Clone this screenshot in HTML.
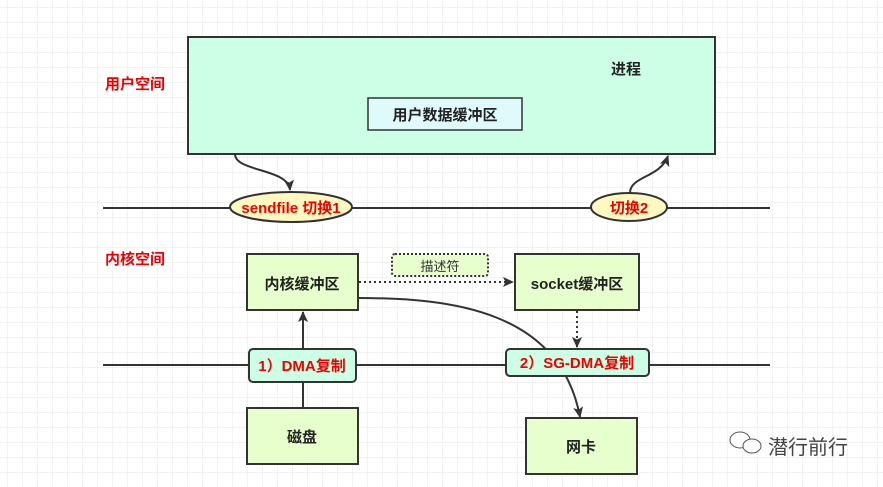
<!DOCTYPE html>
<html><head><meta charset="utf-8"><style>
html,body{margin:0;padding:0;background:#fff}
svg{display:block}
text{font-family:"Liberation Sans","Noto Sans CJK SC",sans-serif;font-weight:bold}
</style></head><body>
<svg width="883" height="487" viewBox="0 0 883 487" xmlns="http://www.w3.org/2000/svg">
<defs>
<pattern id="g" width="15" height="15" patternUnits="userSpaceOnUse" x="7" y="7">
<path d="M15 0H0V15" fill="none" stroke="#e6e6e6" stroke-width="1"/>
</pattern>
<marker id="a" markerWidth="12" markerHeight="12" refX="10" refY="6" orient="auto" markerUnits="userSpaceOnUse">
<path d="M0 1L11 6L0 11L2.5 6Z" fill="#333"/>
</marker>
</defs>
<rect width="883" height="487" fill="url(#g)"/>
<rect x="188" y="37" width="527" height="117" fill="#ccffe6" stroke="#333" stroke-width="2"/>
<text x="626" y="74" font-size="15" text-anchor="middle" fill="#222">进程</text>
<rect x="368" y="98" width="154" height="32" fill="#dffafa" stroke="#333" stroke-width="1.5"/>
<text x="445" y="120" font-size="15" text-anchor="middle" fill="#222">用户数据缓冲区</text>
<text x="135" y="89" font-size="15" text-anchor="middle" fill="#e00">用户空间</text>
<text x="135" y="264" font-size="15" text-anchor="middle" fill="#e00">内核空间</text>
<line x1="103" y1="208" x2="770" y2="208" stroke="#333" stroke-width="2"/>
<line x1="103" y1="365" x2="770" y2="365" stroke="#333" stroke-width="2"/>
<path d="M235 154 C235 172 288 168 290 190" fill="none" stroke="#333" stroke-width="2" marker-end="url(#a)"/>
<path d="M630 193 C630 176 660 178 668 156" fill="none" stroke="#333" stroke-width="2" marker-end="url(#a)"/>
<ellipse cx="291" cy="207" rx="61" ry="15" fill="#fff8c0" stroke="#333" stroke-width="2"/>
<text x="291" y="213" font-size="15" text-anchor="middle" fill="#e00">sendfile  切换1</text>
<ellipse cx="629" cy="207" rx="38" ry="14" fill="#fff8c0" stroke="#333" stroke-width="2"/>
<text x="629" y="213" font-size="15" text-anchor="middle" fill="#e00">切换2</text>
<path d="M358 298 C450 298 560 310 580 417" fill="none" stroke="#333" stroke-width="2" marker-end="url(#a)"/>
<rect x="247" y="254" width="111" height="56" fill="#e6ffcc" stroke="#333" stroke-width="2"/>
<text x="302" y="289" font-size="15" text-anchor="middle" fill="#222">内核缓冲区</text>
<rect x="515" y="254" width="124" height="56" fill="#e6ffcc" stroke="#333" stroke-width="2"/>
<text x="577" y="289" font-size="15" text-anchor="middle" fill="#222">socket缓冲区</text>
<rect x="392" y="254" width="96" height="22" rx="3" fill="#e6ffcc" stroke="#333" stroke-width="2" stroke-dasharray="2,2"/>
<text x="440" y="271" font-size="13" style="font-weight:normal" text-anchor="middle" fill="#333">描述符</text>
<line x1="359" y1="282" x2="513" y2="282" stroke="#333" stroke-width="2" stroke-dasharray="2,3" marker-end="url(#a)"/>
<line x1="577" y1="311" x2="577" y2="347" stroke="#333" stroke-width="2" stroke-dasharray="2,3" marker-end="url(#a)"/>
<line x1="303" y1="408" x2="303" y2="312" stroke="#333" stroke-width="2" marker-end="url(#a)"/>
<rect x="249" y="349" width="107" height="33" rx="4" fill="#ccffe6" stroke="#333" stroke-width="2"/>
<text x="302" y="371" font-size="15" text-anchor="middle" fill="#e00">1）DMA复制</text>
<rect x="506" y="349" width="143" height="27" rx="4" fill="#ccffe6" stroke="#333" stroke-width="2"/>
<text x="577" y="368" font-size="15" text-anchor="middle" fill="#e00">2）SG-DMA复制</text>
<rect x="247" y="408" width="111" height="56" fill="#e6ffcc" stroke="#333" stroke-width="2"/>
<text x="302" y="442" font-size="15" text-anchor="middle" fill="#222">磁盘</text>
<rect x="526" y="418" width="111" height="56" fill="#e6ffcc" stroke="#333" stroke-width="2"/>
<text x="581" y="452" font-size="15" text-anchor="middle" fill="#222">网卡</text>
<g fill="#fff" stroke="#555" stroke-width="1">
<ellipse cx="740" cy="440" rx="10" ry="8"/>
<ellipse cx="752" cy="446" rx="9" ry="7"/>
</g>
<text x="768" y="454" font-size="20" style="font-weight:normal" fill="#444">潜行前行</text>
</svg>
</body></html>
